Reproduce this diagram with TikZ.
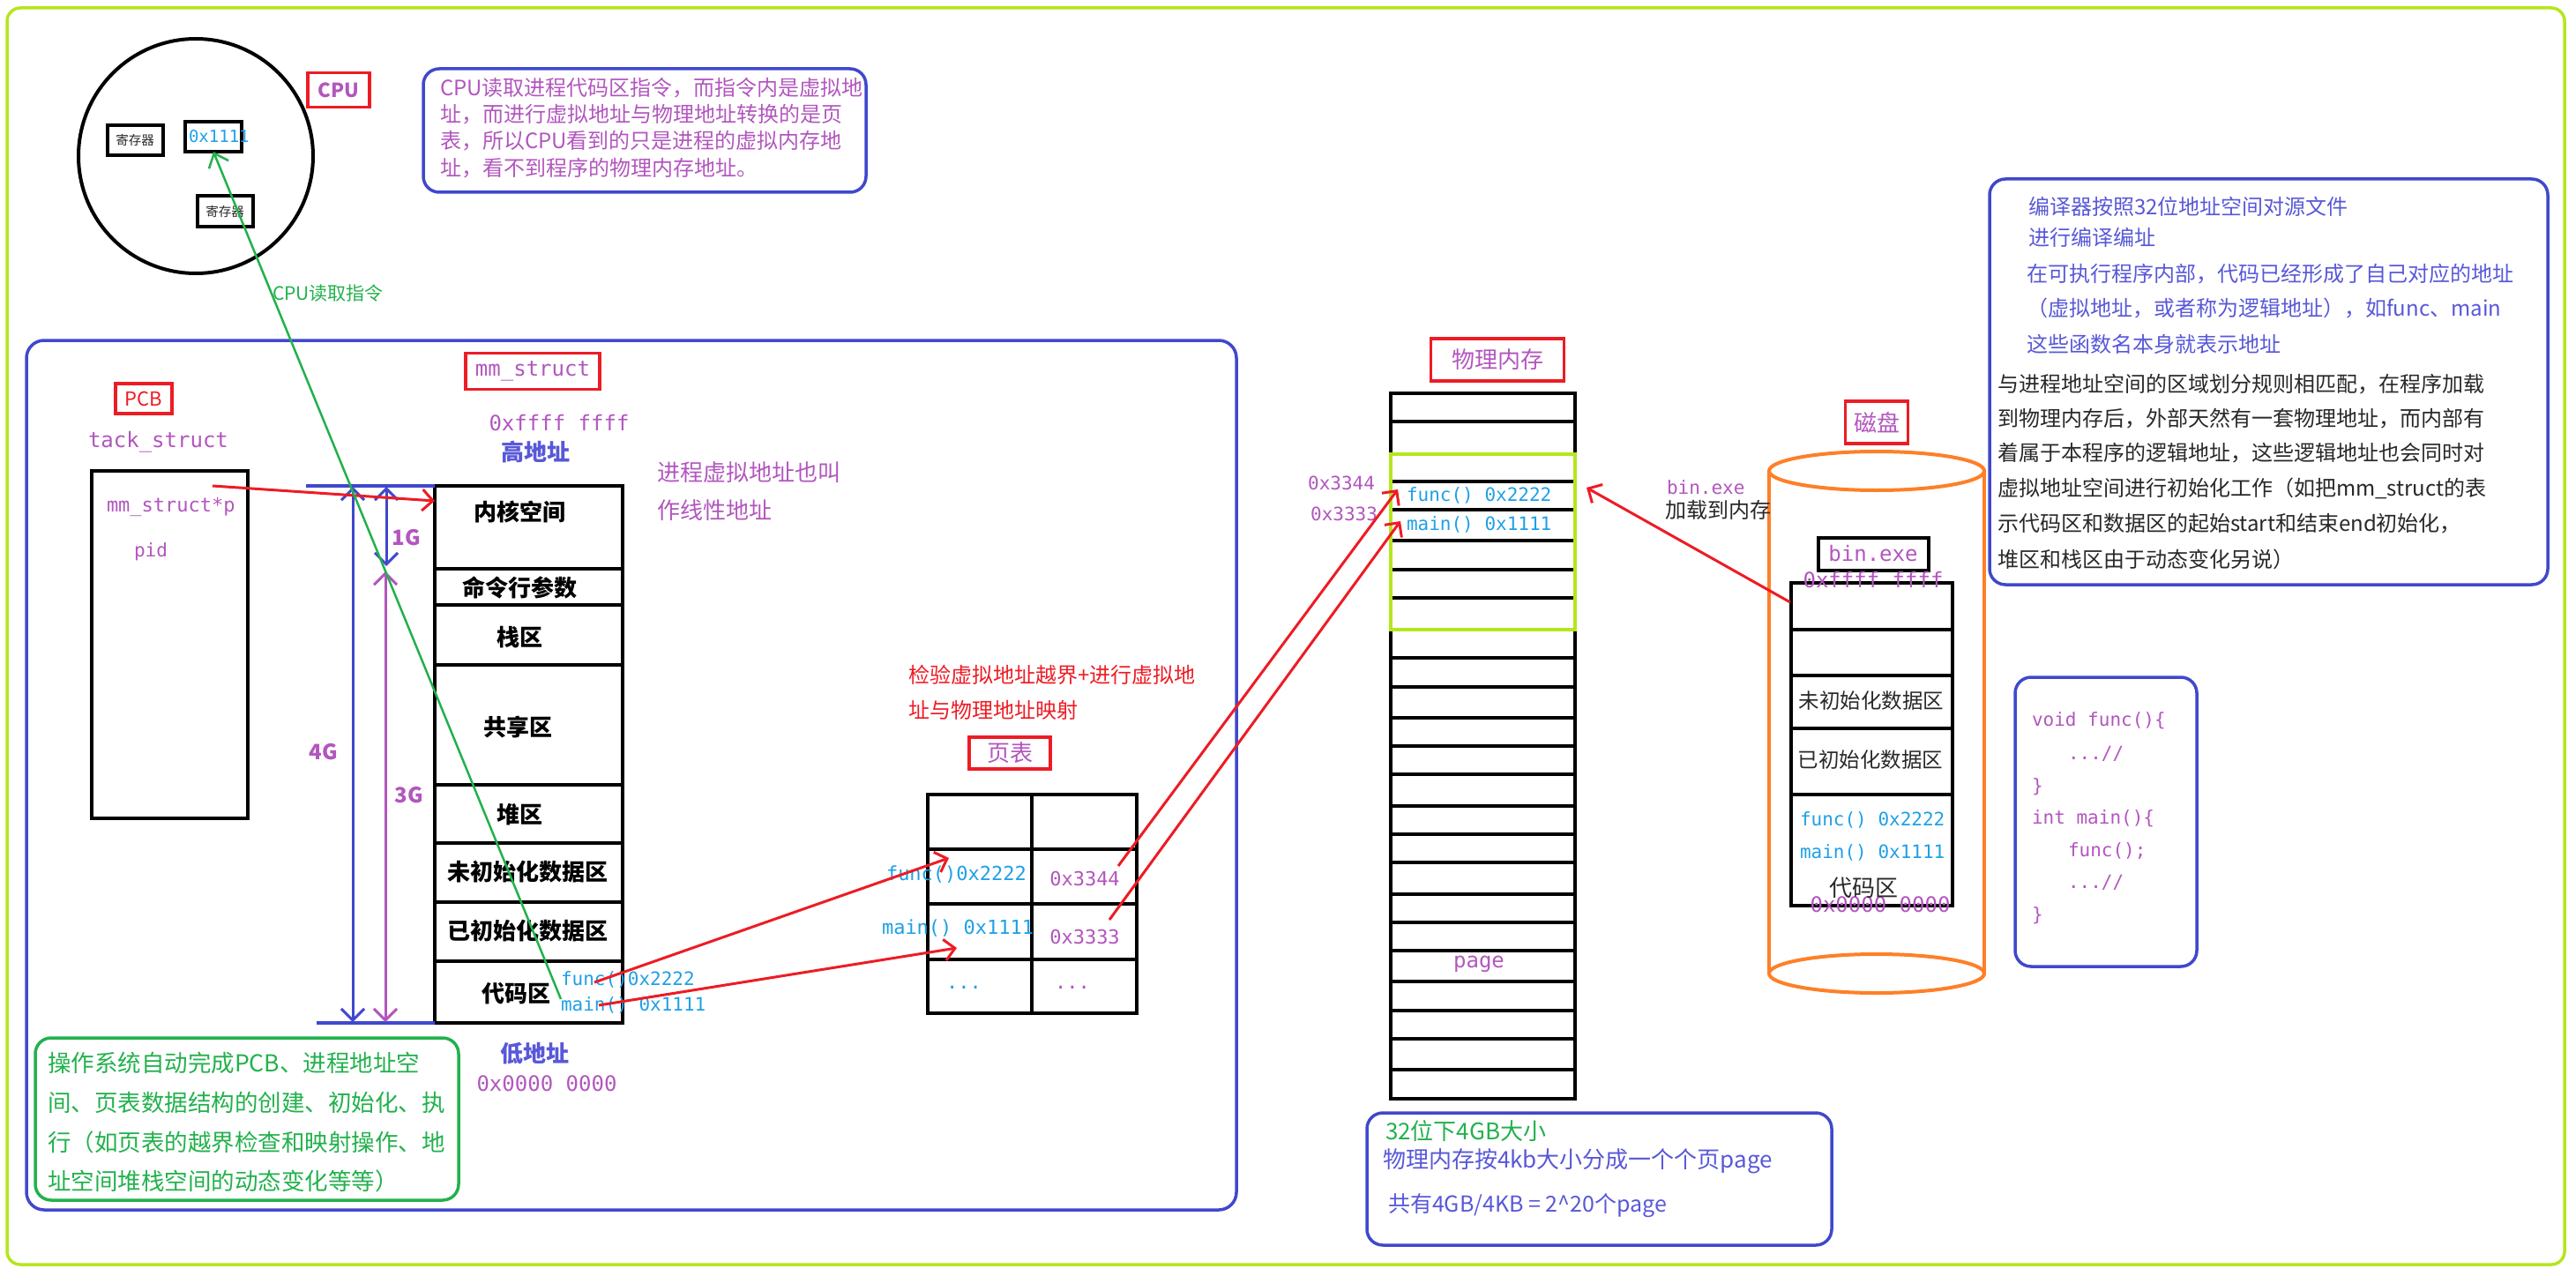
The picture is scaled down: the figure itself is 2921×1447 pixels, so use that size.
\documentclass[tikz,border=0pt]{standalone}
\usepackage{fontspec}
\setmainfont{Noto Sans CJK SC}
\setmonofont{DejaVu Sans Mono}
\usetikzlibrary{arrows.meta}
\definecolor{purp}{RGB}{178,86,190}
\definecolor{fblue}{RGB}{30,160,230}
\definecolor{bdblue}{RGB}{63,72,204}
\definecolor{pred}{RGB}{237,28,36}
\definecolor{pgreen}{RGB}{34,177,76}
\definecolor{plime}{RGB}{181,230,29}
\definecolor{porange}{RGB}{255,127,39}
\definecolor{tblue}{RGB}{88,88,216}
\definecolor{tgray}{RGB}{40,40,40}
\newcommand{\mysz}[1]{\fontsize{#1pt}{#1pt}\selectfont}
\begin{document}
\begin{tikzpicture}[x=1pt,y=-1pt,
  every node/.style={inner sep=0pt,outer sep=0pt},
  fs/.style={font=\mysz{#1}},
  ms/.style={font=\ttfamily\mysz{#1}},
  bs/.style={font=\bfseries\mysz{#1}},
  lw/.style={anchor=west},
  blk/.style={draw=black,line width=4pt},
  redbox/.style={draw=pred,line width=3.5pt},
  rbox/.style={draw=bdblue,line width=3.5pt,rounded corners=18pt,anchor=north west},
  redarr/.style={draw=pred,line width=3pt,-{Straight Barb[length=12pt,width=24pt]}},
  blarr/.style={line width=3pt,{Straight Barb[length=13pt,width=26pt]}-{Straight Barb[length=13pt,width=26pt]}}]
\useasboundingbox (0,0) rectangle (2921,1447);

% outer frame
\node[draw=plime,line width=3.5pt,rounded corners=15pt,minimum width=2900,minimum height=1425,anchor=north west] (frame) at (8,9) {};

% ---------- CPU ----------
\node[draw,line width=4pt,circle,minimum size=266] (cpu) at (222,177) {};
\node[blk,minimum width=63,minimum height=34,fs=14.5,text=tgray] (reg1) at (153,159) {寄存器};
\node[blk,minimum width=64,minimum height=34] (ir) at (242,155) {};
\node[lw,ms=19,text=fblue] (irtext) at (214,155) {0x1111};
\node[blk,minimum width=63,minimum height=35,fs=14.5,text=tgray] (reg2) at (255,240) {寄存器};
\node[redbox,minimum width=70,minimum height=39,bs=22,text=purp] (cpulbl) at (384,102) {CPU};
\node[rbox,minimum width=502,minimum height=140] (cpunote) at (480,78) {};
\node[lw,fs=24,text=purp] (cn1) at (499,100) {CPU读取进程代码区指令，而指令内是虚拟地};
\node[lw,fs=24,text=purp] (cn2) at (499,130) {址，而进行虚拟地址与物理地址转换的是页};
\node[lw,fs=24,text=purp] (cn3) at (499,160) {表，所以CPU看到的只是进程的虚拟内存地};
\node[lw,fs=24,text=purp] (cn4) at (499,191) {址，看不到程序的物理内存地址。};

% ---------- process box ----------
\node[rbox,rounded corners=20pt,minimum width=1372,minimum height=986] (proc) at (30,386) {};
\node[redbox,minimum width=64,minimum height=34,fs=22,text=pred] (pcblbl) at (163,452) {PCB};
\node[lw,ms=24,text=purp] (tack) at (100,501) {tack\_struct};
\node[blk,minimum width=177,minimum height=394,anchor=north west] (pcb) at (104,534) {};
\node[lw,ms=22,text=purp] (mmp) at (121,575) {mm\_struct*p};
\node[lw,ms=21,text=purp] (pid) at (152,626) {pid};

\node[redbox,minimum width=152,minimum height=41,ms=24,text=purp] (mmlbl) at (604,421) {mm\_struct};
\node[ms=24,text=purp] (hiaddr) at (634,480) {0xffff ffff};
\node[bs=26,text=tblue] (hi) at (607,513) {高地址};
\node[bs=26,text=tblue] (lo) at (606,1195) {低地址};
\node[ms=24,text=purp] (loaddr) at (620,1229) {0x0000 0000};

% virtual address space
\node[blk,minimum width=213,minimum height=609,anchor=north west] (vas) at (493,551) {};
\foreach \yy in {645,686,754,890,956,1023,1090}
  \draw[line width=4pt] (vas.west |- 0,\yy) -- (vas.east |- 0,\yy);
\node[bs=26] (k1) at (589,580) {内核空间};
\node[bs=26] (k2) at (589,666) {命令行参数};
\node[bs=26] (k3) at (589,723) {栈区};
\node[bs=26] (k4) at (587,825) {共享区};
\node[bs=26] (k5) at (589,924) {堆区};
\node[bs=26] (k6) at (598,989) {未初始化数据区};
\node[bs=26] (k7) at (598,1056) {已初始化数据区};
\node[bs=26] (k8) at (585,1127) {代码区};
\node[lw,ms=21,text=fblue] (vfunc) at (636,1111) {func()0x2222};
\node[lw,ms=21,text=fblue] (vmain) at (636,1140) {main() 0x1111};

% size markers
\coordinate (tl) at (347,551);
\coordinate (bl) at (359,1160);
\draw[bdblue,line width=4pt] (tl) -- (vas.north west);
\draw[bdblue,line width=4pt] (bl) -- (vas.south west);
\coordinate (g4a) at (400,552); \coordinate (g4b) at (400,1159);
\coordinate (g1a) at (438,552); \coordinate (g1b) at (438,642);
\coordinate (g3a) at (437,648); \coordinate (g3b) at (437,1159);
\draw[blarr,bdblue] (g4a) -- (g4b);
\draw[blarr,bdblue] (g1a) -- (g1b);
\draw[blarr,purp] (g3a) -- (g3b);
\node[bs=24,text=purp] (l1g) at (461,610) {1G};
\node[bs=24,text=purp] (l4g) at (367,853) {4G};
\node[bs=24,text=purp] (l3g) at (464,902) {3G};

\node[lw,fs=26,text=purp] (lin1) at (745,536) {进程虚拟地址也叫};
\node[lw,fs=26,text=purp] (lin2) at (745,579) {作线性地址};

% PCB -> mm_struct
\coordinate (pcbp) at (241,551);
\coordinate (vasin) at (493,568);
\draw[redarr] (pcbp) -- (vasin);

% ---------- page table ----------
\node[lw,fs=24,text=pred] (chk1) at (1030,765) {检验虚拟地址越界+进行虚拟地};
\node[lw,fs=24,text=pred] (chk2) at (1030,805) {址与物理地址映射};
\node[redbox,minimum width=92,minimum height=36,fs=26,text=purp] (ptlbl) at (1145,854) {页表};
\node[blk,minimum width=237,minimum height=248,anchor=north west] (pt) at (1052,901) {};
\draw[line width=4pt] (1170,901) -- (1170,1149);
\foreach \yy in {963,1025,1088}
  \draw[line width=4pt] (pt.west |- 0,\yy) -- (pt.east |- 0,\yy);
\node[lw,ms=22,text=fblue] (pfunc) at (1005,992) {func()0x2222};
\node[lw,ms=22,text=fblue] (pmain) at (1000,1053) {main() 0x1111};
\node[ms=22,text=purp] (p3344) at (1230,996) {0x3344};
\node[ms=22,text=purp] (p3333) at (1230,1062) {0x3333};
\node[ms=22,text=fblue] (pd1) at (1093,1120) {...};
\node[ms=22,text=purp] (pd2) at (1216,1120) {...};

% code -> page table
\coordinate (cf) at (674,1114); \coordinate (cft) at (1076,973);
\coordinate (cm) at (679,1140); \coordinate (cmt) at (1085,1075);
\draw[redarr] (cf) -- (cft);
\draw[redarr] (cm) -- (cmt);

% ---------- physical memory ----------
\node[redbox,minimum width=151,minimum height=48,fs=26,text=purp] (pmlbl) at (1698,408) {物理内存};
\node[blk,minimum width=209,minimum height=800,anchor=north west] (pm) at (1577,446) {};
\foreach \yy in {478,515,546,578,613,646,678,714,746,779,814,846,878,914,946,978,1014,1046,1078,1113,1146,1178,1213}
  \draw[line width=4pt] (pm.west |- 0,\yy) -- (pm.east |- 0,\yy);
\node[draw=plime,line width=4pt,minimum width=209,minimum height=199,anchor=north west] (pmsel) at (1577,515) {};
\node[lw,ms=21,text=fblue] (mfunc) at (1595,562) {func() 0x2222};
\node[lw,ms=21,text=fblue] (mmain) at (1595,595) {main() 0x1111};
\node[anchor=east,ms=21,text=purp] (m3344) at (1559,548) {0x3344};
\node[anchor=east,ms=21,text=purp] (m3333) at (1562,583) {0x3333};
\node[ms=24,text=purp] (page) at (1677,1093) {page};

% page table -> physical memory
\coordinate (t1) at (1268,982); \coordinate (t1t) at (1585,555);
\coordinate (t2) at (1258,1043); \coordinate (t2t) at (1588,591);
\draw[redarr] (t1) -- (t1t);
\draw[redarr] (t2) -- (t2t);

\node[rbox,minimum width=527,minimum height=150] (pmnote) at (1550,1262) {};
\node[lw,fs=26,text=pgreen] (pn1) at (1571,1283) {32位下4GB大小};
\node[lw,fs=26,text=tblue] (pn2) at (1568,1317) {物理内存按4kb大小分成一个个页page};
\node[lw,fs=25,text=tblue] (pn3) at (1574,1367) {共有4GB/4KB = 2\^{}20个page};

% ---------- disk ----------
\node[redbox,minimum width=71,minimum height=48,fs=26,text=purp] (disklbl) at (2128,479) {磁盘};
\draw[porange,line width=4pt] (2006,534) -- (2006,1104) (2250,534) -- (2250,1104);
\draw[porange,line width=4pt] (2128,534) ellipse [x radius=122,y radius=22];
\draw[porange,line width=4pt] (2128,1104) ellipse [x radius=122,y radius=22];
\node[blk,minimum width=125,minimum height=37,ms=24,text=purp] (binbox) at (2124,628) {bin.exe};
\node[blk,minimum width=183,minimum height=366,anchor=north west] (dc) at (2031,661) {};
\foreach \yy in {714,766,826,901}
  \draw[line width=4pt] (dc.west |- 0,\yy) -- (dc.east |- 0,\yy);
\node[ms=24,text=purp] (dhi) at (2124,658) {0xffff ffff};
\node[ms=24,text=purp] (dlo) at (2132,1026) {0x0000 0000};
\node[fs=23.5,text=tgray] (d1) at (2122,795) {未初始化数据区};
\node[fs=23.5,text=tgray] (d2) at (2121,862) {已初始化数据区};
\node[lw,ms=21,text=fblue] (dfunc) at (2041,930) {func() 0x2222};
\node[lw,ms=21,text=fblue] (dmain) at (2041,967) {main() 0x1111};
\node[fs=26,text=tgray] (d3) at (2113,1007) {代码区};

\node[lw,ms=21,text=purp] (ld1) at (1890,553) {bin.exe};
\node[lw,fs=24,text=tgray] (ld2) at (1888,578) {加载到内存};
\coordinate (dsrc) at (2030,683); \coordinate (dtgt) at (1799,553);
\draw[redarr] (dsrc) -- (dtgt);

% ---------- compiler note ----------
\node[rbox,minimum width=633,minimum height=460] (comp) at (2256,203) {};
\node[lw,fs=24,text=tblue] (c1) at (2300,234) {编译器按照32位地址空间对源文件};
\node[lw,fs=24,text=tblue] (c2) at (2300,269) {进行编译编址};
\node[lw,fs=24,text=tblue] (c3) at (2298,311) {在可执行程序内部，代码已经形成了自己对应的地址};
\node[lw,fs=24,text=tblue] (c4) at (2298,350) {（虚拟地址，或者称为逻辑地址），如func、main};
\node[lw,fs=24,text=tblue] (c5) at (2298,390) {这些函数名本身就表示地址};
\node[lw,fs=24,text=tgray] (c6) at (2265,436) {与进程地址空间的区域划分规则相匹配，在程序加载};
\node[lw,fs=24,text=tgray] (c7) at (2265,475) {到物理内存后，外部天然有一套物理地址，而内部有};
\node[lw,fs=24,text=tgray] (c8) at (2265,514) {着属于本程序的逻辑地址，这些逻辑地址也会同时对};
\node[lw,fs=24,text=tgray] (c9) at (2265,554) {虚拟地址空间进行初始化工作（如把mm\_struct的表};
\node[lw,fs=24,text=tgray] (c10) at (2265,594) {示代码区和数据区的起始start和结束end初始化，};
\node[lw,fs=24,text=tgray] (c11) at (2265,634) {堆区和栈区由于动态变化另说）};

% ---------- source code ----------
\node[rbox,minimum width=206,minimum height=328] (code) at (2285,768) {};
\node[lw,ms=21,text=purp] (s1) at (2304,817) {void func()\{};
\node[lw,ms=21,text=purp] (s2) at (2345,855) {...//};
\node[lw,ms=21,text=purp] (s3) at (2304,892) {\}};
\node[lw,ms=21,text=purp] (s4) at (2304,928) {int main()\{};
\node[lw,ms=21,text=purp] (s5) at (2345,965) {func();};
\node[lw,ms=21,text=purp] (s6) at (2345,1001) {...//};
\node[lw,ms=21,text=purp] (s7) at (2304,1038) {\}};

% ---------- OS note ----------
\node[rbox,draw=pgreen,minimum width=480,minimum height=184] (osnote) at (40,1177) {};
\node[lw,fs=26.5,text=pgreen] (o1) at (54,1205) {操作系统自动完成PCB、进程地址空};
\node[lw,fs=26.5,text=pgreen] (o2) at (54,1250) {间、页表数据结构的创建、初始化、执};
\node[lw,fs=26.5,text=pgreen] (o3) at (54,1295) {行（如页表的越界检查和映射操作、地};
\node[lw,fs=26.5,text=pgreen] (o4) at (54,1339) {址空间堆栈空间的动态变化等等）};

% CPU fetch arrow
\coordinate (codemain) at (636,1133);
\draw[pgreen,line width=2.5pt,-{Straight Barb[length=14pt,width=24pt]}] (codemain) -- (ir.south);
\node[lw,fs=21,text=pgreen] (fetch) at (309,333) {CPU读取指令};
\end{tikzpicture}
\end{document}
